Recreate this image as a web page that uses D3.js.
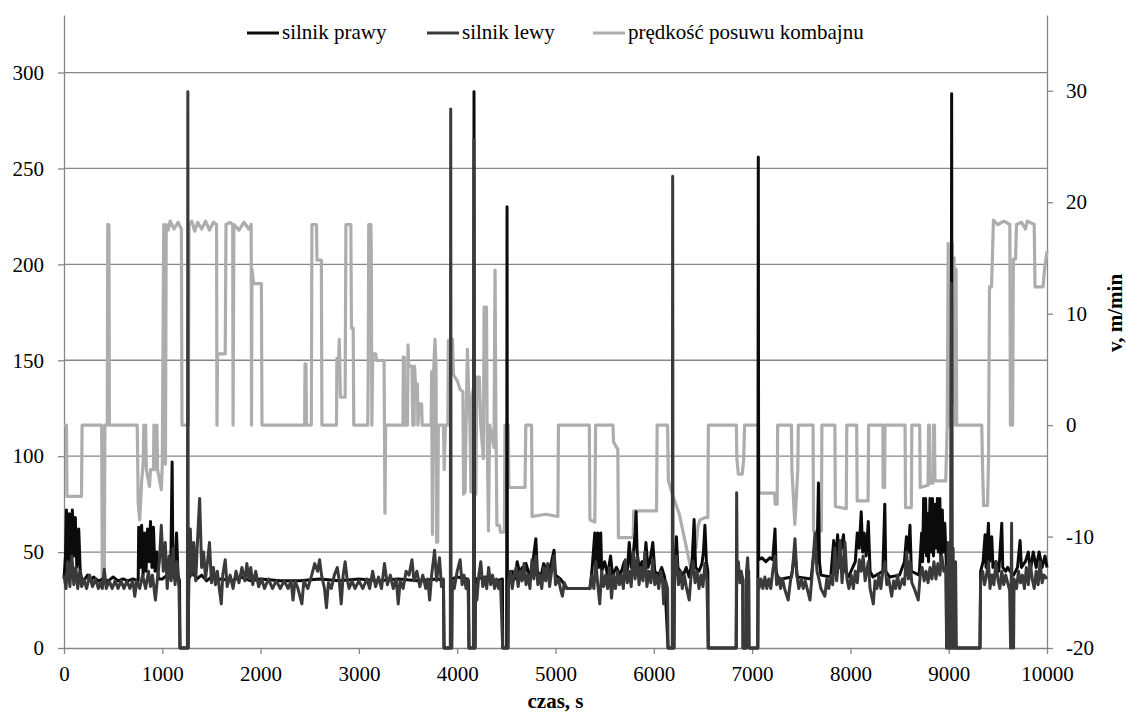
<!DOCTYPE html>
<html>
<head>
<meta charset="utf-8">
<script src="https://cdn.jsdelivr.net/npm/d3@7"></script>
<style>
body { margin: 0; background: #fff; }
svg text { font-family: "Liberation Serif", "Times New Roman", serif; font-size: 21px; fill: #000; }
.title { font-weight: bold; }
</style>
</head>
<body>
<svg width="1126" height="713"></svg>
<script>
// czas [s], wartosc
var seriesNames = ["silnik prawy", "silnik lewy", "prędkość posuwu kombajnu"];
var seriesColors = ["#0b0b0b", "#3a3a3a", "#adadad"];

var xTicks = [0, 1000, 2000, 3000, 4000, 5000, 6000, 7000, 8000, 9000, 10000];
var leftTicks = [0, 50, 100, 150, 200, 250, 300];
var rightTicks = [-20, -10, 0, 10, 20, 30];

var silnikPrawy = [
  [0,36],[15,48],[25,72],[40,45],[55,70],[70,40],[85,72],[100,48],[115,68],[130,42],[150,62],[165,40],[180,36],
  [200,35],[240,38],[270,35],[300,37],[350,35],[400,36],[450,35],[500,37],[550,35],[600,36],[650,35],[700,36],
  [755,35],[760,63],[775,42],[790,64],[805,38],[820,60],[835,40],[850,62],[865,45],[880,66],[895,42],[910,63],
  [925,40],[945,50],[960,36],[1000,36],[1050,38],[1085,36],[1100,97],[1108,40],[1125,36],[1145,60],[1160,38],
  [1175,35],[1180,0],[1262,0],[1270,36],[1300,40],[1350,36],[1400,38],[1450,35],[1500,37],[1550,35],[1600,36],
  [1700,35],[1800,37],[1900,35],[2000,36],[2200,35],[2400,35],[2600,36],[2800,35],[3000,36],[3200,35],[3400,36],
  [3600,35],[3800,36],[3860,35],[3866,0],[3944,0],[3948,36],[4000,37],[4100,36],[4115,35],[4120,0],[4166,0],
  [4171,290],[4176,0],[4182,0],[4186,36],[4300,37],[4400,35],[4460,36],[4463,0],[4503,0],[4507,230],[4511,0],
  [4517,0],[4520,36],[4560,40],[4590,36],[4610,45],[4640,38],[4660,42],[4680,36],[4700,44],[4740,37],[4770,45],
  [4800,57],[4815,40],[4850,37],[4880,44],[4920,38],[4960,45],[4985,51],[5000,38],[5050,36],[5120,31],[5350,31],
  [5370,40],[5400,60],[5410,40],[5430,60],[5440,42],[5460,60],[5470,40],[5500,45],[5530,38],[5560,48],[5580,38],
  [5620,42],[5660,38],[5700,45],[5730,40],[5750,55],[5770,42],[5790,48],[5810,60],[5820,71],[5830,50],[5850,42],
  [5880,45],[5900,40],[5920,55],[5940,42],[5960,45],[5990,55],[6010,40],[6050,38],[6080,42],[6110,37],[6145,0],
  [6205,0],[6210,40],[6230,58],[6245,42],[6270,40],[6300,38],[6330,42],[6360,37],[6390,45],[6410,67],[6425,42],
  [6460,40],[6490,44],[6505,50],[6520,64],[6535,45],[6550,40],[6554,0],[6838,0],[6843,36],[6870,40],[6906,36],
  [6908,0],[6940,0],[6943,38],[6965,40],[6968,0],[7058,0],[7063,256],[7067,46],[7100,47],[7140,45],[7180,47],
  [7210,46],[7233,62],[7245,40],[7265,36],[7300,36],[7400,37],[7436,50],[7460,37],[7600,36],[7640,55],[7660,45],
  [7675,86],[7685,45],[7700,38],[7800,37],[7830,56],[7850,45],[7870,59],[7885,42],[7900,50],[7930,59],[7950,40],
  [7980,37],[8050,45],[8070,60],[8090,52],[8110,71],[8125,50],[8140,60],[8160,48],[8182,66],[8200,40],[8230,37],
  [8330,40],[8350,75],[8360,40],[8400,37],[8500,38],[8550,45],[8570,58],[8590,50],[8606,64],[8620,40],[8700,38],
  [8725,60],[8735,45],[8745,78],[8755,50],[8765,78],[8775,48],[8785,70],[8795,45],[8810,78],[8820,50],[8835,78],
  [8845,48],[8860,75],[8870,52],[8885,78],[8895,50],[8910,78],[8920,45],[8935,72],[8945,50],[8960,65],[8975,45],
  [8979,0],[9025,0],[9030,289],[9035,0],[9318,0],[9325,40],[9350,45],[9370,59],[9380,42],[9404,65],[9415,45],
  [9438,58],[9450,42],[9480,45],[9510,40],[9540,65],[9550,42],[9580,40],[9600,42],[9624,40],[9660,38],[9700,42],
  [9726,56],[9740,42],[9780,45],[9810,50],[9830,40],[9860,50],[9890,42],[9920,50],[9950,42],[9980,48],[10000,42]
];

var silnikLewy = [
  [0,38],[20,31],[40,45],[60,32],[80,48],[100,33],[120,42],[140,31],[160,40],[180,32],[200,36],[230,31],[260,38],
  [290,32],[320,36],[350,31],[370,34],[390,31],[410,41],[430,31],[460,35],[490,31],[520,35],[550,31],[580,35],
  [610,31],[640,35],[670,31],[700,35],[720,27],[740,35],[770,31],[800,38],[830,31],[860,40],[880,32],[900,38],
  [930,25],[950,36],[970,45],[990,64],[1010,40],[1030,55],[1050,31],[1070,48],[1090,35],[1110,52],[1130,33],
  [1150,45],[1170,31],[1180,0],[1255,0],[1260,290],[1264,0],[1268,40],[1285,62],[1300,38],[1320,55],[1340,35],
  [1360,58],[1380,78],[1400,42],[1420,50],[1440,36],[1460,45],[1480,55],[1500,34],[1520,42],[1540,33],[1560,40],
  [1580,31],[1600,23],[1615,38],[1640,46],[1660,32],[1690,38],[1720,31],[1750,40],[1780,34],[1810,42],[1840,35],
  [1860,44],[1880,36],[1900,42],[1920,33],[1950,40],[1980,32],[2010,36],[2040,31],[2080,36],[2120,31],[2160,35],
  [2200,31],[2240,35],[2280,31],[2310,35],[2330,25],[2350,35],[2380,31],[2420,23],[2440,35],[2480,31],[2520,38],
  [2550,44],[2580,40],[2600,46],[2620,38],[2650,31],[2670,21],[2690,34],[2720,31],[2750,38],[2780,42],[2800,35],
  [2820,23],[2840,38],[2860,45],[2880,36],[2900,31],[2930,35],[2960,31],[3000,35],[3040,31],[3080,36],[3110,31],
  [3140,40],[3170,32],[3200,37],[3230,31],[3260,44],[3290,33],[3320,38],[3350,31],[3380,36],[3400,23],[3420,35],
  [3450,31],[3480,40],[3510,38],[3540,46],[3560,35],[3590,40],[3620,32],[3650,38],[3680,31],[3700,36],[3720,25],
  [3740,38],[3770,51],[3790,35],[3820,47],[3840,32],[3860,36],[3866,0],[3930,0],[3934,281],[3938,0],[3944,0],
  [3948,35],[3970,31],[4000,40],[4030,46],[4050,33],[4070,38],[4090,31],[4110,36],[4120,0],[4165,0],[4170,265],
  [4175,0],[4180,0],[4184,33],[4200,25],[4220,38],[4240,45],[4260,32],[4280,37],[4300,31],[4320,42],[4340,33],
  [4360,38],[4380,31],[4400,36],[4420,31],[4440,35],[4463,0],[4515,0],[4520,34],[4540,40],[4560,31],[4580,38],
  [4600,42],[4620,32],[4640,40],[4660,35],[4680,44],[4700,33],[4720,38],[4740,31],[4760,46],[4780,36],[4800,48],
  [4820,33],[4840,38],[4860,31],[4880,42],[4900,35],[4920,44],[4940,32],[4960,40],[4985,48],[5000,33],[5030,36],
  [5050,31],[5070,27],[5090,34],[5110,31],[5120,31],[5350,31],[5370,38],[5390,31],[5410,45],[5430,33],[5450,23],
  [5470,40],[5490,32],[5510,38],[5530,31],[5550,42],[5570,26],[5590,38],[5610,31],[5630,40],[5650,33],[5670,38],
  [5690,31],[5710,46],[5730,34],[5750,40],[5770,32],[5790,50],[5810,36],[5830,48],[5850,33],[5870,42],[5890,35],
  [5910,50],[5930,32],[5950,40],[5970,34],[5990,46],[6010,33],[6030,38],[6050,31],[6070,40],[6090,34],[6100,23],
  [6120,35],[6140,31],[6145,0],[6188,0],[6192,246],[6196,0],[6205,0],[6210,36],[6230,48],[6250,33],[6270,40],
  [6290,31],[6310,38],[6330,32],[6360,25],[6380,38],[6400,45],[6420,34],[6440,40],[6460,31],[6480,38],[6500,32],
  [6520,44],[6540,35],[6554,0],[6838,0],[6843,81],[6848,38],[6860,45],[6875,34],[6890,40],[6906,35],[6908,0],
  [6940,0],[6943,40],[6955,47],[6965,35],[6968,0],[7058,0],[7063,36],[7070,31],[7090,36],[7110,31],[7130,37],
  [7150,31],[7170,36],[7190,31],[7210,40],[7233,48],[7250,33],[7270,37],[7290,31],[7310,36],[7330,31],[7367,25],
  [7390,35],[7410,40],[7436,57],[7455,38],[7475,31],[7500,36],[7520,31],[7540,35],[7560,31],[7589,25],[7610,38],
  [7640,60],[7660,40],[7680,36],[7700,31],[7740,27],[7760,36],[7780,31],[7800,38],[7820,33],[7843,52],[7860,35],
  [7880,45],[7895,56],[7915,34],[7945,55],[7965,36],[7985,31],[8010,38],[8030,31],[8050,40],[8070,34],[8090,46],
  [8110,40],[8130,48],[8150,35],[8182,45],[8200,31],[8233,23],[8250,35],[8270,31],[8290,38],[8310,31],[8330,40],
  [8352,45],[8370,33],[8390,36],[8420,27],[8440,35],[8460,31],[8480,38],[8500,31],[8530,36],[8550,33],[8572,50],
  [8590,36],[8606,45],[8625,34],[8650,31],[8690,25],[8710,38],[8730,42],[8750,35],[8770,40],[8790,34],[8810,42],
  [8830,36],[8850,45],[8870,36],[8890,44],[8910,38],[8930,48],[8950,40],[8970,42],[8979,0],[8995,55],[9005,0],
  [9020,50],[9027,190],[9032,0],[9045,52],[9055,0],[9070,45],[9078,0],[9318,0],[9325,35],[9345,40],[9365,33],
  [9385,38],[9404,45],[9420,31],[9440,38],[9460,33],[9480,45],[9500,36],[9520,31],[9540,40],[9560,33],[9580,38],
  [9600,34],[9620,30],[9630,0],[9640,65],[9645,0],[9660,0],[9665,36],[9690,31],[9710,40],[9730,34],[9750,38],
  [9770,31],[9790,42],[9810,33],[9830,44],[9850,36],[9870,31],[9890,40],[9910,33],[9930,45],[9950,34],[9970,38],
  [10000,36]
];

var predkosc = [
  [0,0],[25,0],[30,-6.4],[178,-6.4],[184,0],[383,0],[390,-14],[410,-14],[416,0],[440,0],[445,18],[457,18],[462,0],
  [745,0],[755,-7],[770,-8.5],[790,-5],[805,-3.5],[812,0],[820,-3.5],[830,0],[838,-4],[870,-5.5],[880,-4],[910,-4],
  [915,0],[922,-4],[940,-3.5],[945,0],[952,-4],[990,-5.8],[1000,-3.5],[1008,8.5],[1015,18],[1025,0],[1032,-3.5],
  [1040,18],[1060,17.5],[1080,18.3],[1120,17.6],[1160,18.2],[1194,17.6],[1200,0],[1265,0],[1272,18],[1300,18.3],
  [1330,17.4],[1360,18.2],[1400,17.6],[1440,18.3],[1480,17.5],[1520,18.2],[1552,18],[1556,0],[1562,6.4],[1640,6.4],
  [1648,18],[1690,18.2],[1716,18],[1720,0],[1728,18],[1780,17.5],[1830,18.2],[1880,17.6],[1904,18],[1908,0],
  [1912,14],[1930,12.7],[2008,12.7],[2014,0],[2448,0],[2452,5.5],[2462,5.5],[2466,0],[2516,0],[2522,18],[2568,18],
  [2574,14.8],[2618,14.8],[2624,0],[2772,0],[2776,6],[2790,4.6],[2800,7.7],[2812,2.5],[2860,2.5],[2868,18],
  [2918,18],[2924,8.7],[2942,8.7],[2948,0],[3090,0],[3095,5],[3100,18],[3122,18],[3126,15.6],[3132,0],[3140,6.4],
  [3170,6.4],[3180,5.8],[3256,5.8],[3260,0],[3265,-7.9],[3272,0],[3448,0],[3452,6.1],[3462,6.1],[3466,0],[3495,0],
  [3500,7.2],[3506,5.3],[3540,5.3],[3548,0],[3562,0],[3566,5.3],[3575,3.7],[3595,3.7],[3600,0],[3618,1.9],
  [3638,1.9],[3644,0],[3735,0],[3740,4.8],[3748,-9.8],[3760,4.8],[3774,7.7],[3785,5],[3790,-10.5],[3802,-10.5],
  [3808,0],[3860,0],[3868,-4],[3880,0],[3905,0],[3910,7.6],[3920,5.3],[3945,5.2],[3952,7.7],[3962,4.5],[4000,4],
  [4030,3.2],[4058,3],[4065,-6.2],[4080,-6],[4090,0],[4104,6.8],[4115,3.4],[4130,0],[4140,-6],[4150,2.5],
  [4170,3.6],[4180,0],[4190,-6.2],[4200,4.3],[4225,4.3],[4240,0],[4266,-3],[4274,10.6],[4298,10.6],[4304,0],
  [4318,-9.5],[4330,0],[4374,-2],[4385,13.9],[4394,0],[4404,-9],[4430,-9],[4440,-9.6],[4480,-9.6],[4486,0],
  [4520,0],[4526,-5.6],[4690,-5.6],[4698,0],[4756,0],[4762,-8.2],[4900,-8],[5024,-8.2],[5030,0],[5344,0],
  [5350,-8.5],[5400,-8.7],[5408,0],[5585,0],[5590,-1.5],[5634,-2.2],[5640,-10.1],[5790,-10.1],[5796,-7.7],
  [6028,-7.7],[6034,0],[6140,0],[6148,-5],[6200,-6.5],[6260,-8],[6320,-10.5],[6380,-13],[6395,-12],[6410,-9.5],
  [6430,-11],[6450,-9],[6470,-8.5],[6520,-8.3],[6550,-8.3],[6555,0],[6840,0],[6845,-3],[6860,-4.4],[6900,-4.4],
  [6915,-3],[6923,0],[7063,0],[7068,-6.1],[7230,-6.1],[7235,-7.1],[7255,-7.1],[7260,0],[7400,0],[7405,-4],
  [7435,-8.9],[7465,-4],[7470,0],[7620,0],[7625,-9.5],[7705,-9.5],[7710,0],[7842,0],[7847,-7.3],[7958,-7.5],
  [7963,0],[8064,0],[8069,-6.8],[8180,-6.8],[8185,0],[8330,0],[8333,-5.6],[8348,-5.6],[8352,0],[8556,0],
  [8561,-7.4],[8620,-7.4],[8625,0],[8705,0],[8710,-5.6],[8790,-5.4],[8795,0],[8803,0],[8808,-5.2],[8840,-5.2],
  [8845,0],[8855,0],[8860,-5],[8970,-5],[8985,0],[8995,16.3],[9005,0],[9015,16],[9025,0],[9035,16.3],[9045,2],
  [9055,15],[9065,0],[9075,14],[9081,0],[9336,0],[9345,-4],[9355,-7.2],[9395,-7.2],[9405,-3],[9415,12.4],
  [9435,12.4],[9442,14.2],[9455,18.4],[9500,18],[9560,18.3],[9622,18],[9628,0],[9650,0],[9658,14.9],[9680,14.9],
  [9690,18],[9740,18.2],[9780,17.6],[9800,18.3],[9870,18],[9878,12.4],[9890,12.4],[9960,12.4],[9975,14],
  [10000,15.6]
];

var svg = d3.select("svg"),
    plotLeft = 64, plotRight = 1047, plotTop = 15, plotBottom = 648,
    axisColor = "#868686",
    fontFamily = "'Liberation Serif', 'Times New Roman', serif";

svg.append("rect").attr("width", 1126).attr("height", 713).attr("fill", "#fff");

var x = d3.scaleLinear().domain([0, 10000]).range([plotLeft, plotRight]);
var yL = d3.scaleLinear().domain([0, 330]).range([plotBottom, plotTop]);
var yR = d3.scaleLinear().domain([-20, 36.8]).range([plotBottom, plotTop]);

// siatka pozioma
svg.append("g").selectAll("line")
    .data(leftTicks.filter(function (d) { return d > 0; }))
    .enter().append("line")
    .attr("x1", plotLeft).attr("x2", plotRight)
    .attr("y1", function (d) { return yL(d); })
    .attr("y2", function (d) { return yL(d); })
    .attr("stroke", axisColor).attr("stroke-width", 1.3);

function styleAxis(g) {
    g.attr("font-size", 21).attr("font-family", fontFamily);
    g.selectAll("text").attr("fill", "#000");
    g.selectAll("path, line").attr("stroke", axisColor).attr("stroke-width", 1.3);
}

svg.append("g")
    .attr("transform", "translate(" + plotLeft + ",0)")
    .call(d3.axisLeft(yL).tickValues(leftTicks).tickSize(6).tickSizeOuter(0).tickPadding(14))
    .call(styleAxis);

svg.append("g")
    .attr("transform", "translate(" + plotRight + ",0)")
    .call(d3.axisRight(yR).tickValues(rightTicks).tickFormat(function (d) { return String(d); })
        .tickSize(6).tickSizeOuter(0).tickPadding(13))
    .call(styleAxis);

svg.append("g")
    .attr("transform", "translate(0," + plotBottom + ")")
    .call(d3.axisBottom(x).tickValues(xTicks).tickFormat(d3.format("d"))
        .tickSize(6).tickSizeOuter(0).tickPadding(12))
    .call(styleAxis);

// serie
var lineL = d3.line()
    .x(function (d) { return x(d[0]); })
    .y(function (d) { return yL(d[1]); });
var lineR = d3.line()
    .x(function (d) { return x(d[0]); })
    .y(function (d) { return yR(d[1]); });

var plot = svg.append("g");
plot.append("path").datum(predkosc)
    .attr("d", lineR).attr("fill", "none")
    .attr("stroke", seriesColors[2]).attr("stroke-width", 3.2).attr("stroke-linejoin", "round");
plot.append("path").datum(silnikPrawy)
    .attr("d", lineL).attr("fill", "none")
    .attr("stroke", seriesColors[0]).attr("stroke-width", 3).attr("stroke-linejoin", "round");
plot.append("path").datum(silnikLewy)
    .attr("d", lineL).attr("fill", "none")
    .attr("stroke", seriesColors[1]).attr("stroke-width", 3).attr("stroke-linejoin", "round");

// tytuly osi
svg.append("text").attr("class", "title")
    .attr("font-family", fontFamily)
    .attr("x", (plotLeft + plotRight) / 2).attr("y", 708)
    .attr("text-anchor", "middle")
    .text("czas, s");

svg.append("text").attr("class", "title")
    .attr("font-family", fontFamily)
    .attr("transform", "translate(1122,313) rotate(-90)")
    .attr("text-anchor", "middle")
    .text("v, m/min");

// legenda
var legendX = [247, 427, 593];
var legend = svg.append("g").selectAll("g")
    .data(seriesNames)
    .enter().append("g")
    .attr("transform", function (d, i) { return "translate(" + legendX[i] + ",33)"; });

legend.append("line")
    .attr("x1", 0).attr("x2", 32)
    .attr("stroke", function (d, i) { return seriesColors[i]; })
    .attr("stroke-width", 3);

legend.append("text")
    .attr("font-family", fontFamily)
    .attr("x", 35).attr("y", 6)
    .text(function (d) { return d; });
</script>
</body>
</html>
